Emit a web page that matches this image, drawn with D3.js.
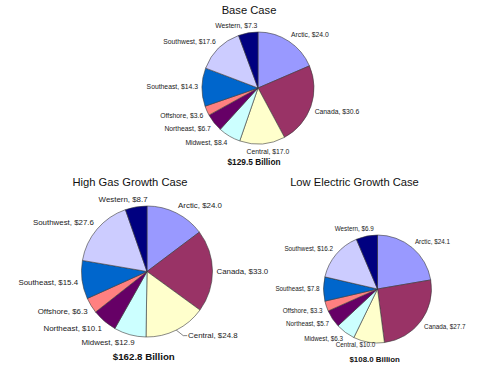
<!DOCTYPE html>
<html>
<head>
<meta charset="utf-8">
<script src="https://cdn.jsdelivr.net/npm/d3@7"></script>
<style>
  html, body { margin: 0; padding: 0; background: #ffffff; }
  svg { display: block; }
  text { font-family: "Liberation Sans", Arial, sans-serif; }
</style>
</head>
<body>
<script>
// ---------- data ----------
const regions = ["Arctic", "Canada", "Central", "Midwest", "Northeast", "Offshore", "Southeast", "Southwest", "Western"];
const baseCase = [24.0, 30.6, 17.0, 8.4, 6.7, 3.6, 14.3, 17.6, 7.3];
const highGasCase = [24.0, 33.0, 24.8, 12.9, 10.1, 6.3, 15.4, 27.6, 8.7];
const lowElectricCase = [24.1, 27.7, 10.0, 6.3, 5.7, 3.3, 7.8, 16.2, 6.9];
const caseTitles = ["Base Case", "High Gas Growth Case", "Low Electric Growth Case"];
const caseValues = [baseCase, highGasCase, lowElectricCase];

// ---------- styles / layout ----------
const regionColors = ["#9999FF", "#993366", "#FFFFCC", "#CCFFFF", "#660066", "#FF8080", "#0066CC", "#CCCCFF", "#000080"];
const layouts = [
  { cx: 258, cy: 88, r: 56, labelFont: 6.8, titleX: 249, titleY: 14, totalX: 254, totalY: 165, totalFont: 8.3 },
  { cx: 147, cy: 271.5, r: 65.5, labelFont: 7.9, titleX: 130, titleY: 186, totalX: 143.8, totalY: 360, totalFont: 9.7 },
  { cx: 377.5, cy: 289, r: 54, labelFont: 6.3, titleX: 354.5, titleY: 186, totalX: 374.7, totalY: 362.3, totalFont: 7.9 }
];
// label tweaks (leader lines / nudges), keyed by case index and region
const labelTweaks = {
  1: { Central: { dx: 10, dy: -2, leader: true } },
  2: { Central: { dx: -3, dy: -5 } }
};
const labelGap = 4;
const steep = 3;

const W = 480, H = 373;
const svg = d3.select("body").append("svg").attr("width", W).attr("height", H);

const color = d3.scaleOrdinal().domain(regions).range(regionColors);
const pie = d3.pie().sort(null).value(d => d.value);
const clamp = v => Math.max(-1, Math.min(1, v));

caseValues.forEach((vals, ci) => {
  const L = layouts[ci];
  const data = regions.map((name, i) => ({ name, value: vals[i] }));
  const arcs = pie(data);
  const arc = d3.arc().innerRadius(0).outerRadius(L.r);
  const g = svg.append("g");

  // title
  g.append("text")
    .attr("x", L.titleX).attr("y", L.titleY)
    .attr("text-anchor", "middle")
    .attr("font-size", 11.2)
    .attr("fill", "#111")
    .text(caseTitles[ci]);

  // slices
  const pg = g.append("g").attr("transform", `translate(${L.cx},${L.cy})`);
  pg.selectAll("path").data(arcs).join("path")
    .attr("d", arc)
    .attr("fill", d => color(d.data.name))
    .attr("stroke", "#3a3a3a")
    .attr("stroke-width", 0.6);

  // labels
  const R = L.r + labelGap;
  arcs.forEach(d => {
    const a = (d.startAngle + d.endAngle) / 2;
    const s = Math.sin(a), c = Math.cos(a);
    const t = g.append("text")
      .attr("font-size", L.labelFont)
      .attr("fill", "#1a1a1a")
      .attr("text-anchor", "middle")
      .attr("dy", "0.35em")
      .text(`${d.data.name}, $${d.data.value.toFixed(1)}`);
    const w = t.node().getComputedTextLength();
    const h = L.labelFont;
    let x = L.cx + R * s + clamp(s * steep) * w / 2;
    let y = L.cy - R * c + clamp(-c * steep) * h / 2;
    const tw = (labelTweaks[ci] || {})[d.data.name];
    if (tw) {
      x += tw.dx; y += tw.dy;
      if (tw.leader) {
        const ex = L.cx + L.r * s, ey = L.cy - L.r * c;
        const lx = x - w / 2 - 0.8;
        g.append("path")
          .attr("d", `M${ex},${ey}L${lx - 4},${y}L${lx},${y}`)
          .attr("fill", "none")
          .attr("stroke", "#333")
          .attr("stroke-width", 0.6);
      }
    }
    t.attr("x", x).attr("y", y);
  });

  // total
  const total = d3.sum(vals);
  g.append("text")
    .attr("x", L.totalX).attr("y", L.totalY)
    .attr("text-anchor", "middle")
    .attr("font-size", L.totalFont)
    .attr("font-weight", "bold")
    .attr("fill", "#111")
    .text(`$${total.toFixed(1)} Billion`);
});
</script>
</body>
</html>
